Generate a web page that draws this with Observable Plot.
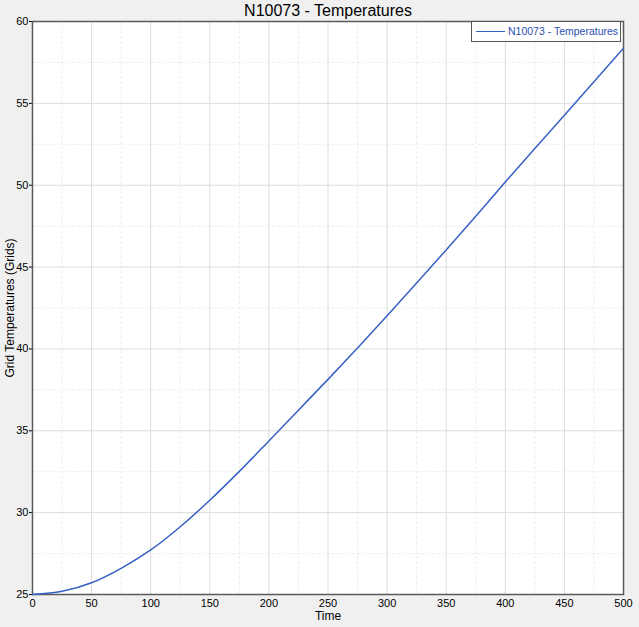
<!DOCTYPE html>
<html>
<head>
<meta charset="utf-8">
<script src="https://cdn.jsdelivr.net/npm/d3@7"></script>
<script src="https://cdn.jsdelivr.net/npm/@observablehq/plot@0.6"></script>
<style>
  html, body { margin: 0; padding: 0; background: #f0f0f0; }
  #wrap { position: relative; width: 639px; height: 627px; overflow: hidden; }
  #legend { position: absolute; left: 471px; top: 21px; width: 150px; height: 21px;
    border: 1px solid #555; background: #fff; box-sizing: border-box;
    font: 10.5px "Liberation Sans", Arial, sans-serif; color: #2b50b0; }
  #legend .sw { position: absolute; left: 4px; top: 9px; width: 29px; height: 0; border-top: 1.5px solid #3660c4; }
  #legend .tx { position: absolute; left: 36px; top: 3px; white-space: nowrap; }
</style>
</head>
<body>
<div id="wrap"></div>
<script>
const chartTitle = "N10073 - Temperatures";
const seriesName = "N10073 - Temperatures";
const xLabel = "Time";
const yLabel = "Grid Temperatures (Grids)";
const time = [0, 25, 50, 75, 100, 125, 150, 175, 200, 225, 250, 275, 300, 325, 350, 375, 400, 425, 450, 475, 500];
const temperature = [25.0, 25.2, 25.72, 26.6, 27.72, 29.14, 30.76, 32.52, 34.38, 36.26, 38.14, 40.06, 42.02, 44.02, 46.05, 48.1, 50.2, 52.24, 54.28, 56.32, 58.36];
const xMajor = [0, 50, 100, 150, 200, 250, 300, 350, 400, 450, 500];
const xMinor = [25, 75, 125, 175, 225, 275, 325, 375, 425, 475];
const yMajor = [25, 30, 35, 40, 45, 50, 55, 60];
const yMinor = [27.5, 32.5, 37.5, 42.5, 47.5, 52.5, 57.5];

const data = time.map((t, i) => ({t, v: temperature[i]}));

const chart = Plot.plot({
  width: 639,
  height: 627,
  marginLeft: 32,
  marginRight: 16,
  marginTop: 21,
  marginBottom: 33,
  style: {background: "#f0f0f0", fontFamily: "'Liberation Sans', Arial, sans-serif", fontSize: "11px", color: "#000"},
  x: {domain: [0, 500]},
  y: {domain: [25, 60]},
  marks: [
    Plot.frame({fill: "#fff", stroke: null}),
    Plot.gridX(xMinor, {stroke: "#ededed", strokeOpacity: 1, strokeDasharray: "3,2"}),
    Plot.gridY(yMinor, {stroke: "#ededed", strokeOpacity: 1, strokeDasharray: "3,2"}),
    Plot.gridX(xMajor, {stroke: "#dcdcdc", strokeOpacity: 1}),
    Plot.gridY(yMajor, {stroke: "#dcdcdc", strokeOpacity: 1}),
    Plot.axisX(xMajor, {tickSize: 0, tickPadding: 5, fontSize: 11, label: xLabel, labelAnchor: "center", labelArrow: "none", labelOffset: 25}),
    Plot.axisY(yMajor, {tickSize: 3, tickPadding: 1, fontSize: 11, label: yLabel, labelAnchor: "center", labelArrow: "none", labelOffset: 27}),
    Plot.frame({stroke: "#5a5a5a", strokeWidth: 1.5}),
    Plot.line(data, {x: "t", y: "v", stroke: "#3660c4", strokeWidth: 1.5, curve: "monotone-x"}),
    Plot.text([chartTitle], {frameAnchor: "top", lineAnchor: "middle", dy: -11, fontSize: 16, fill: "#000"})
  ]
});

d3.select(chart).selectAll("[aria-label='x-axis label'] text, [aria-label='y-axis label'] text").style("font-size", "12px");

document.getElementById("wrap").appendChild(chart);
const leg = document.createElement("div");
leg.id = "legend";
leg.innerHTML = '<div class="sw"></div><div class="tx"></div>';
leg.querySelector(".tx").textContent = seriesName;
document.getElementById("wrap").appendChild(leg);
</script>
</body>
</html>
